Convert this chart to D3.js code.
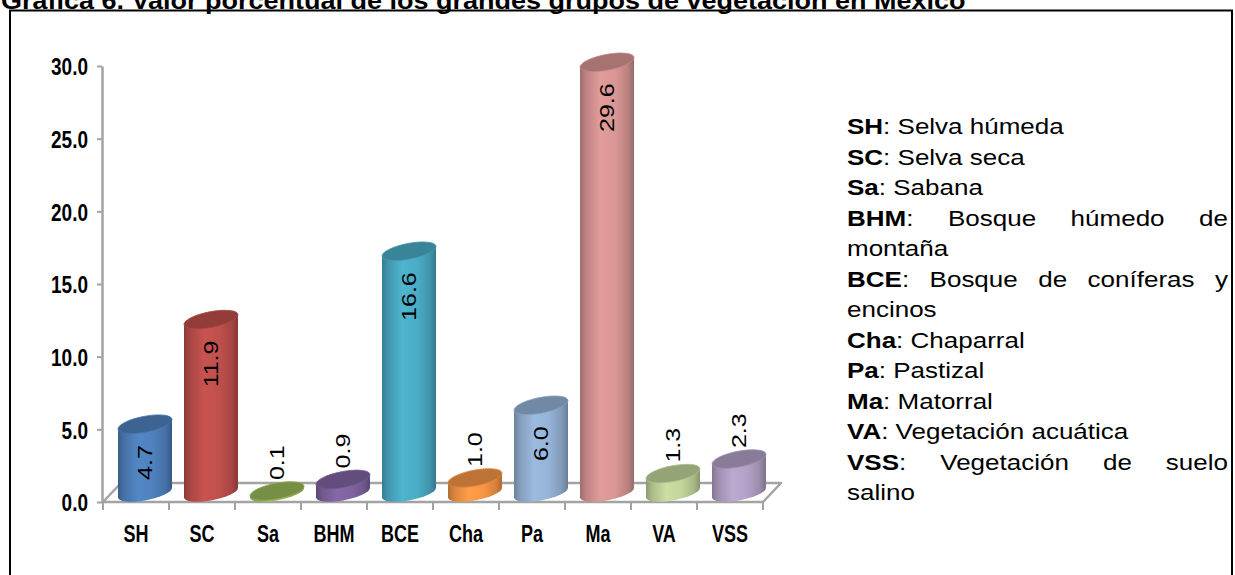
<!DOCTYPE html>
<html><head><meta charset="utf-8">
<script src="https://cdn.jsdelivr.net/npm/d3@7"></script>
<style>body{margin:0;background:#fff;} svg{display:block;font-family:"Liberation Sans",Arial,sans-serif;}</style>
</head><body><svg id="c" width="1235" height="575"></svg>
<script>
const categories = ["SH","SC","Sa","BHM","BCE","Cha","Pa","Ma","VA","VSS"];
const values = [4.7,11.9,0.1,0.9,16.6,1.0,6.0,29.6,1.3,2.3];
const colors = ["#4F81BD","#C0504D","#9BBB59","#8064A2","#4BACC6","#F79646","#95B3D7","#D99694","#C3D69B","#B3A2C7"];
const yTicks = [0,5,10,15,20,25,30];
const title = "Gráfica 6. Valor porcentual de los grandes grupos de vegetación en México";
const legendCodes = ["SH","SC","Sa","BHM","","BCE","","Cha","Pa","Ma","VA","VSS",""];
const legendTexts = [": Selva húmeda",": Selva seca",": Sabana",": Bosque húmedo de","montaña",": Bosque de coníferas y","encinos",": Chaparral",": Pastizal",": Matorral",": Vegetación acuática",": Vegetación de suelo","salino"];
const legendJustify = [false,false,false,true,false,true,false,false,false,false,false,true,false];

const svg = d3.select("#c");
const axisColor = "#a3a3a3";
const depth = {dx: 18, dy: -19};
const x = d3.scaleBand().domain(categories).range([103, 763]).paddingInner(0).paddingOuter(0);
const y = d3.scaleLinear().domain([0, 30]).range([502, 66]);
const vs = 1.3; // vertical stretch of chart text

// title (cut at top, as in the reference)
svg.append("text").attr("transform", "translate(1,9) scale(1,0.87)")
  .attr("font-size", 27).attr("font-weight", "bold").attr("fill", "#000").text(title);

// frame
svg.append("rect").attr("x", 10).attr("y", 10.5).attr("width", 1222).attr("height", 620)
  .attr("fill", "none").attr("stroke", "#000").attr("stroke-width", 2);

// floor
const [x0, x1] = x.range();
const yb = y(0);
svg.append("path")
  .attr("d", `M${x0},${yb} L${x0+depth.dx},${yb+depth.dy} L${x1+depth.dx},${yb+depth.dy} L${x1},${yb} Z`)
  .attr("fill", "none").attr("stroke", axisColor).attr("stroke-width", 2.5).attr("stroke-linejoin", "round");

// y axis
const yAxis = svg.append("g").attr("transform", "translate(102,0)")
  .call(d3.axisLeft(y).tickValues(yTicks).tickSize(5).tickSizeOuter(0).tickFormat(d3.format(".1f")));
yAxis.select(".domain").attr("stroke", axisColor).attr("stroke-width", 2.5);
yAxis.selectAll(".tick line").attr("stroke", axisColor).attr("stroke-width", 2);
yAxis.selectAll(".tick text")
  .attr("x", null).attr("dy", null)
  .attr("transform", `translate(-14,${0.716*19*vs/2}) scale(1,${vs})`)
  .attr("font-size", 19).attr("font-weight", "bold").attr("fill", "#000")
  .attr("font-family", "'Liberation Sans',Arial,sans-serif");

// x axis boundary ticks
const bounds = categories.map(c => x(c)).concat([x1]);
svg.append("g").selectAll("line").data(bounds).join("line")
  .attr("x1", d => d).attr("x2", d => d).attr("y1", yb).attr("y2", yb + 8)
  .attr("stroke", axisColor).attr("stroke-width", 2);

// x axis labels
const xAxis = svg.append("g").attr("transform", `translate(0,${yb})`)
  .call(d3.axisBottom(x).tickSize(0).tickSizeOuter(0));
xAxis.select(".domain").remove();
xAxis.selectAll(".tick text")
  .attr("y", null).attr("dy", null)
  .attr("transform", `translate(0,40) scale(1,1.35)`)
  .attr("font-size", 18).attr("font-weight", "bold").attr("fill", "#000")
  .attr("font-family", "'Liberation Sans',Arial,sans-serif");

// bars (cylinders)
const defs = svg.append("defs");
colors.forEach((col, i) => {
  const c = d3.color(col);
  const g = defs.append("linearGradient").attr("id", "g" + i).attr("x1", "0").attr("x2", "1").attr("y1", "0").attr("y2", "0");
  g.append("stop").attr("offset", "0").attr("stop-color", c.darker(0.9));
  g.append("stop").attr("offset", "0.12").attr("stop-color", c.darker(0.35));
  g.append("stop").attr("offset", "0.38").attr("stop-color", c.brighter(0.12));
  g.append("stop").attr("offset", "0.65").attr("stop-color", c);
  g.append("stop").attr("offset", "0.88").attr("stop-color", c.darker(0.4));
  g.append("stop").attr("offset", "1").attr("stop-color", c.darker(1.0));
});

const rx = 27, ry = 8;
const data = categories.map((c, i) => ({c, v: values[i], i}));
const bars = svg.append("g").selectAll("g").data(data).join("g")
  .attr("transform", d => `translate(${x(d.c) + x.bandwidth()/2 + depth.dx/2},0) skewY(-10)`);
bars.append("path")
  .attr("d", d => {
    const top = y(d.v) + depth.dy/2, base = y(0) + depth.dy/2;
    return `M${-rx},${top} L${-rx},${base} A${rx},${ry} 0 0 0 ${rx},${base} L${rx},${top} Z`;
  })
  .attr("fill", d => `url(#g${d.i})`);
bars.append("ellipse")
  .attr("cx", 0).attr("cy", d => y(d.v) + depth.dy/2).attr("rx", rx).attr("ry", ry)
  .attr("fill", d => d3.color(colors[d.i]).darker(0.75))
  .attr("stroke", d => d3.color(colors[d.i]).darker(0.3)).attr("stroke-width", 0.8);

// value labels (rotated)
svg.append("g").selectAll("text").data(data).join("text")
  .attr("transform", d => {
    const cx = x(d.c) + x.bandwidth()/2 + depth.dx/2;
    const top = y(d.v) + depth.dy/2;
    const py = d.v >= 4 ? top + 21 : top - 11;
    return `translate(${cx},${py}) scale(1,1.25) rotate(-90)`;
  })
  .attr("text-anchor", d => d.v >= 4 ? "end" : "start")
  .attr("dy", "0.36em")
  .attr("font-size", 20).attr("fill", "#000")
  .text(d => d3.format(".1f")(d.v));

// legend text
const lx = 847, rxEdge = 1228, lfs = 26, lsy = 0.87;
const leg = svg.append("g");
legendCodes.forEach((code, i) => {
  const by = 134 + i * 30.5;
  const txt = legendTexts[i];
  if (!legendJustify[i]) {
    const t = leg.append("text").attr("transform", `translate(${lx},${by}) scale(1,${lsy})`)
      .attr("font-size", lfs).attr("fill", "#000");
    if (code) t.append("tspan").attr("font-weight", "bold").text(code);
    t.append("tspan").text(txt);
  } else {
    const words = txt.trim().split(/\s+/);
    const tokens = [];
    const first = leg.append("text").attr("font-size", lfs).attr("fill", "#000");
    first.append("tspan").attr("font-weight", "bold").text(code);
    first.append("tspan").text(words[0]);
    tokens.push(first);
    words.slice(1).forEach(w => tokens.push(leg.append("text").attr("font-size", lfs).attr("fill", "#000").text(w)));
    const widths = tokens.map(t => t.node().getComputedTextLength());
    const total = d3.sum(widths);
    const gap = (rxEdge - lx - total) / (tokens.length - 1);
    let cx = lx;
    tokens.forEach((t, k) => {
      t.attr("transform", `translate(${cx},${by}) scale(1,${lsy})`);
      cx += widths[k] + gap;
    });
  }
});
</script></body></html>
